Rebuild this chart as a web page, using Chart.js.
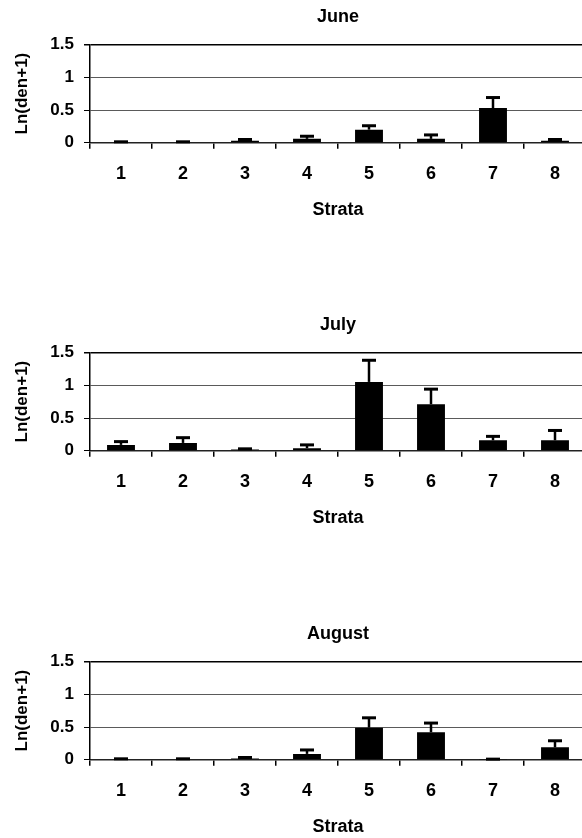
<!DOCTYPE html>
<html>
<head>
<meta charset="utf-8">
<script src="https://cdn.jsdelivr.net/npm/chart.js@4"></script>
<style>
  html, body { margin: 0; padding: 0; background: #fff; overflow: hidden; width: 582px; height: 838px; }
  .panel { position: absolute; left: 0; width: 586px; height: 225px; }
</style>
</head>
<body>
<div class="panel" style="top:0px"><canvas id="June-Chart"></canvas></div>
<div class="panel" style="top:308px"><canvas id="July-Chart"></canvas></div>
<div class="panel" style="top:617px"><canvas id="August-Chart"></canvas></div>
<script>
const strata = ["1", "2", "3", "4", "5", "6", "7", "8"];

// mean Ln(den+1) per stratum, and the upper error bar length
const juneMeans = [0.01, 0.01, 0.03, 0.06, 0.2, 0.06, 0.53, 0.03];
const juneErr = [0.005, 0.005, 0.02, 0.04, 0.06, 0.06, 0.16, 0.02];

const julyMeans = [0.09, 0.12, 0.02, 0.04, 1.05, 0.71, 0.16, 0.16];
const julyErr = [0.05, 0.08, 0.01, 0.05, 0.33, 0.23, 0.06, 0.15];

const augMeans = [0.01, 0.01, 0.02, 0.09, 0.49, 0.42, 0.005, 0.19];
const augErr = [0.005, 0.005, 0.015, 0.06, 0.15, 0.14, 0.005, 0.1];

const yMin = 0;
const yMax = 1.5;
const yStep = 0.5;

Chart.defaults.font.family = "'Liberation Sans', Arial, sans-serif";
Chart.defaults.font.weight = "bold";
Chart.defaults.color = "#000";

// draws the upper half of each error bar with a cap
const errorBars = {
  id: "errorBars",
  afterDatasetsDraw(chart) {
    const ctx = chart.ctx;
    const y = chart.scales.y;
    const ds = chart.data.datasets[0];
    const meta = chart.getDatasetMeta(0);
    ctx.save();
    ctx.strokeStyle = "#000";
    meta.data.forEach((bar, i) => {
      const top = y.getPixelForValue(ds.data[i] + ds.errors[i]);
      ctx.lineWidth = 2.5;
      ctx.beginPath();
      ctx.moveTo(bar.x, bar.y);
      ctx.lineTo(bar.x, top);
      ctx.stroke();
      ctx.lineWidth = 3;
      ctx.beginPath();
      ctx.moveTo(bar.x - 7, top);
      ctx.lineTo(bar.x + 7, top);
      ctx.stroke();
    });
    ctx.restore();
  },
};

function makeConfig(title, means, errs) {
  return {
    type: "bar",
    data: {
      labels: strata,
      datasets: [
        {
          data: means,
          errors: errs,
          backgroundColor: "#000",
          borderWidth: 0,
          barPercentage: 0.9,
          categoryPercentage: 0.5,
        },
      ],
    },
    options: {
      responsive: true,
      maintainAspectRatio: false,
      animation: false,
      layout: { padding: 0 },
      plugins: {
        legend: { display: false },
        tooltip: { enabled: false },
        title: {
          display: true,
          fullSize: false,
          text: title,
          font: { size: 18, weight: "bold" },
          color: "#000",
          padding: { top: 6, bottom: 16.8 },
        },
      },
      scales: {
        x: {
          grid: {
            display: true,
            drawOnChartArea: false,
            drawTicks: true,
            tickLength: 6,
            color: "#000",
            lineWidth: 1.5,
          },
          border: { display: true, color: "#222", width: 1.5 },
          ticks: { font: { size: 18 }, padding: 14, color: "#000" },
          title: {
            display: true,
            text: "Strata",
            font: { size: 18, weight: "bold" },
            color: "#000",
            padding: { top: 1, bottom: 4 },
          },
        },
        y: {
          min: yMin,
          max: yMax,
          grid: {
            color: (c) => (c.tick && c.tick.value === yMax ? "#000" : "#5a5a5a"),
            lineWidth: (c) => (c.tick && c.tick.value === yMax ? 1.5 : 1),
            tickColor: "#000",
            tickLength: 6,
          },
          border: { display: true, color: "#000", width: 1.5 },
          ticks: {
            stepSize: yStep,
            font: { size: 17 },
            padding: 10,
            color: "#000",
            callback: (v) => String(v),
          },
          title: {
            display: true,
            text: "Ln(den+1)",
            font: { size: 17, weight: "bold" },
            color: "#000",
            padding: { top: 12, bottom: 0 },
          },
          afterFit: (scale) => {
            scale.width = 90;
          },
        },
      },
    },
    plugins: [errorBars],
  };
}

new Chart(document.getElementById("June-Chart"), makeConfig("June", juneMeans, juneErr));
new Chart(document.getElementById("July-Chart"), makeConfig("July", julyMeans, julyErr));
new Chart(document.getElementById("August-Chart"), makeConfig("August", augMeans, augErr));
</script>
</body>
</html>
